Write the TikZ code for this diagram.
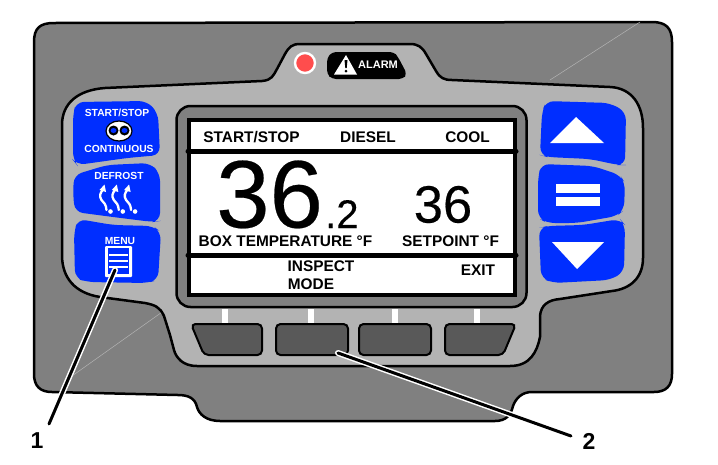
\documentclass[tikz,border=0pt]{standalone}
\usepackage{fontspec}
\setmainfont{Liberation Sans}
\newfontfamily\numfont[FakeBold=0.25]{Liberation Sans}
\definecolor{bodygray}{HTML}{808080}
\definecolor{panelgray}{HTML}{B3B3B3}
\definecolor{keygray}{HTML}{595959}
\definecolor{btnblue}{HTML}{002EFF}
\definecolor{ledred}{HTML}{FF4D4D}
\newcommand{\fs}[1]{\fontsize{#1}{#1}\selectfont}
\tikzset{
  outline/.style={draw=black,line width=2.5pt,line join=round},
  btn/.style={fill=btnblue,rounded corners=8pt},
  softkey/.style={fill=keygray,draw=black,line width=2pt,rounded corners=4.5pt},
  tick/.style={fill=white},
  lbl/.style={font=\bfseries\fs{15.4},inner sep=0pt,text=black},
  wlbl/.style={font=\bfseries\fs{10.3},inner sep=0pt,text=white},
  callout/.style={font=\bfseries\fs{23},inner sep=0pt},
  stripe/.style={line width=5pt,black},
  leadercase/.style={white,line width=6pt,line cap=round},
  leader/.style={black,line width=3pt,line cap=round},
  heat/.style={white,line width=2.3pt,line cap=round},
  faint/.style={line width=.5pt,color=panelgray}
}
\begin{document}
\begin{tikzpicture}[x=1pt,y=-1pt]
\useasboundingbox (0,0) rectangle (718,464);
% body
\path[outline,fill=bodygray]
  (34,42) .. controls (34,28) and (40,23) .. (54,23)
  -- (652,22) .. controls (666,22) and (672,28) .. (672,42)
  -- (672,374) .. controls (672,386) and (666,392) .. (654,392)
  -- (532,392) .. controls (522,392) and (516,398) .. (513,406)
  .. controls (511,415) and (506,421) .. (495,421)
  -- (220,421) .. controls (206,421) and (199,414) .. (197,407)
  .. controls (195,398) and (188,395) .. (178,395)
  -- (52,392) .. controls (40,392) and (34,386) .. (34,374) -- cycle;
\draw[faint] (72,376) -- (165,310);
\draw[faint] (550,80) -- (640,22);
% panel
\path[outline,fill=panelgray]
  (62,125) .. controls (62,103) and (78,90) .. (105,88)
  -- (262,81) .. controls (272,80) and (273,76) .. (277,69)
  -- (285,54) .. controls (289,47) and (292,44) .. (300,44)
  -- (410,44) .. controls (418,44) and (422,47) .. (426,54)
  -- (436,71) .. controls (440,78) and (444,80) .. (452,80)
  -- (610,87) .. controls (632,88) and (643,105) .. (643,128)
  -- (643,258) .. controls (643,278) and (630,289) .. (612,291)
  -- (560,299) .. controls (548,300) and (541,305) .. (540,316)
  -- (540,337) .. controls (537,352) and (530,366) .. (510,366)
  -- (197,366) .. controls (182,366) and (176,357) .. (174,350)
  -- (170,335) -- (164,316) .. controls (160,307) and (155,305) .. (145,303)
  -- (100,297) .. controls (75,293) and (62,278) .. (62,255) -- cycle;
% bezel and screen
\node[outline,fill=bodygray,rounded corners=14pt,minimum width=350pt,minimum height=201pt,inner sep=0pt] (bezel) at (351.5,206.5) {};
\node[draw=black,line width=3.4pt,fill=white,minimum width=326pt,minimum height=175pt,inner sep=0pt] (screen) at (352,207.5) {};
\coordinate (s1l) at (188,151); \coordinate (s1r) at (516,151);
\coordinate (s2l) at (188,255); \coordinate (s2r) at (516,255);
\draw[stripe,line cap=round] (s1l) -- (s1r);
\draw[stripe,line cap=round] (s2l) -- (s2r);
% screen text
\node[lbl] (t1) at (251.5,137) {START/STOP};
\node[lbl] (t2) at (368,137) {DIESEL};
\node[lbl] (t3) at (467.5,137) {COOL};
\node[inner sep=0pt,font=\numfont\fs{96},anchor=base west] (big) at (216,227.5) {36};
\node[inner sep=0pt,font=\numfont\fs{40},anchor=base west] (dec) at (325,228) {.2};
\node[inner sep=0pt,font=\numfont\fs{52.5}] (small) at (443,204.5) {36};
\node[lbl] (t4) at (285.5,241) {BOX TEMPERATURE °F};
\node[lbl] (t5) at (450.5,241) {SETPOINT °F};
\node[lbl] (t6) at (321,266) {INSPECT};
\node[lbl] (t7) at (311,284) {MODE};
\node[lbl] (t8) at (478,270) {EXIT};
% alarm
\node[circle,fill=ledred,draw=white,line width=2.4pt,minimum size=20pt,inner sep=0pt] (led) at (305,63) {};
\path[fill=black,rounded corners=4pt] (327,58) -- (332,52) -- (394,52) -- (398,57) -- (407,74) -- (403,79) -- (332,79) -- (327,74) -- cycle;
\path[fill=white] (346,55) -- (334,74.5) -- (357,74.5) -- cycle;
\path[fill=black] (344.5,60) -- (347.5,60) -- (346.7,68) -- (345.3,68) -- cycle;
\fill[black] (346,71) circle (1.5);
\node[inner sep=0pt,text=white,font=\bfseries\fs{11}] (alarm) at (378,65) {ALARM};
% left buttons
\path[btn] (73,115) -- (76,102) -- (147,101) -- (158,113) -- (160,155) -- (127,158) -- (77,165) -- (73,160) -- cycle;
\path[btn] (73,195) -- (74,175) -- (107,165) -- (150,163) -- (160,173) -- (160,221) -- (153,222) -- (113,217) -- (75,212) -- cycle;
\path[btn] (74,232) -- (78,219) -- (113,225) -- (153,226) -- (161,232) -- (158,280) -- (147,283) -- (87,282) -- (75,278) -- cycle;
\node[wlbl] (b1) at (117,113) {START/STOP};
\node[wlbl] (b2) at (119,149) {CONTINUOUS};
\node[wlbl] (b3) at (119,176) {DEFROST};
\node[wlbl] (b4) at (120,241) {MENU};
\fill[white,draw=black,line width=1.2pt] (119,131) ellipse (13 and 10);
\fill[black] (113.5,130.5) circle (5);
\fill[black] (124.5,130.5) circle (5);
\fill[btnblue] (113.5,130.5) ellipse (3 and 2.5);
\fill[btnblue] (124.5,130.5) ellipse (3 and 2.5);
\foreach \dx in {0,12.3,24.6}{
  \begin{scope}[xshift=\dx pt]
  \draw[heat,-] (103.5,189) .. controls (100,193) and (99,196) .. (101.5,200) .. controls (104,203) and (106,204) .. (106.5,210);
  \fill[white] (104.5,184.5) -- (99.5,190) -- (106,192) -- cycle;
  \fill[white] (110.5,211.5) circle (2.3);
  \end{scope}}
\node[fill=white,minimum width=27pt,minimum height=31pt,inner sep=0pt,rounded corners=1pt] (menuicon) at (118.5,261.5) {};
\node[fill=btnblue,minimum width=21pt,minimum height=26pt,inner sep=0pt] (menuin) at (118.5,261) {};
\foreach \yy in {255,261,267}{\fill[white] (109,\yy-1) rectangle (128,\yy+1);}
% right buttons
\path[btn] (542,112) -- (546,101) -- (610,103) -- (626,112) -- (625,165) -- (618,165) -- (590,159) -- (547,157) -- (540,155) -- cycle;
\path[btn] (538,178) -- (541,164) -- (593,166) -- (620,175) -- (625,183) -- (624,210) -- (617,216) -- (577,223) -- (547,223) -- (538,218) -- cycle;
\path[btn] (539,228) -- (547,226) -- (583,225) -- (620,219) -- (625,225) -- (624,272) -- (610,280) -- (553,283) -- (541,278) -- cycle;
\path[fill=white] (576,117) -- (550,143) -- (604,143) -- cycle;
\path[fill=white] (556,184) rectangle (600,193);
\path[fill=white] (556,197) rectangle (600,206);
\path[fill=white] (552,242) -- (604,242) -- (577,269) -- cycle;
% soft keys
\fill[tick] (222,309) rectangle (228,323);
\fill[tick] (308,309) rectangle (314,323);
\fill[tick] (392,309) rectangle (398,323);
\fill[tick] (474,309) rectangle (480,323);
\path[softkey] (191,324) -- (262,324) -- (262,355) -- (204,355) -- cycle;
\node[softkey,minimum width=72pt,minimum height=31pt,inner sep=0pt] (key2) at (312,339.5) {};
\node[softkey,minimum width=72pt,minimum height=31pt,inner sep=0pt] (key3) at (395,339.5) {};
\path[softkey] (445,324) -- (516,324) -- (503,355) -- (445,355) -- cycle;
% callouts
\node[callout] (c1) at (37,441) {1};
\node[callout] (c2) at (589,441) {2};
\coordinate (p1) at (115,270);
\coordinate (p1e) at (49,424);
\coordinate (p2) at (338,353);
\coordinate (p2e) at (571,436);
\draw[leadercase] (p1) -- (p1e);
\draw[leadercase] (p2) -- (p2e);
\draw[leader] (p1) -- (p1e);
\draw[leader] (p2) -- (p2e);
\end{tikzpicture}
\end{document}
